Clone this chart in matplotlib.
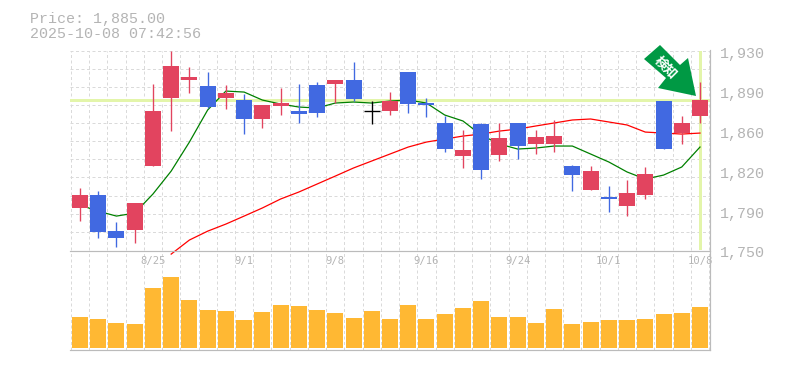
import matplotlib
matplotlib.use("Agg")
import matplotlib.pyplot as plt
from matplotlib.patches import Polygon, Rectangle

plt.rcParams['font.family'] = ['Noto Sans CJK JP', 'DejaVu Sans']

opens  = [1788,1800,1767,1768,1826,1887,1903,1898,1887,1885,1868,1880,1875,1899,1900,1903,1875,1875,1911,1883,1865,1835,1864,1836,1865,1846,1846,1826,1804,1798,1790,1800,1884,1856,1871]
closes = [1800,1766,1761,1792,1875,1916,1906,1879,1892,1868,1881,1883,1873,1874,1903,1886,1875,1884,1882,1881,1841,1840,1822,1851,1844,1852,1853,1818,1821,1796,1801,1819,1841,1865,1885]
highs  = [1806,1803,1775,1792,1900,1930,1915,1911,1899,1891,1881,1896,1900,1902,1903,1920,1884,1893,1911,1887,1871,1858,1865,1865,1865,1858,1867,1827,1826,1808,1813,1825,1884,1871,1902]
lows   = [1776,1761,1753,1756,1826,1857,1892,1878,1877,1855,1860,1872,1865,1870,1883,1884,1864,1872,1874,1870,1838,1824,1814,1830,1832,1837,1838,1803,1804,1784,1781,1796,1841,1846,1865]
ma_short = [1790.6,1785,1780.6,1783.3,1800.5,1821.2,1847.4,1876.3,1893.4,1892.5,1885.3,1881.7,1879,1878.1,1882.6,1883.5,1882.6,1884.4,1885.3,1882.6,1871.8,1866.4,1853.7,1845.6,1841.1,1842,1843.8,1843.8,1836.6,1829.4,1820.4,1814,1817.6,1824.9,1842.9]
ma_long_start = 5
ma_long = [1746.3,1759,1767,1773.4,1780.6,1787.9,1796,1802.3,1809.5,1816.7,1824,1830.3,1836.6,1842.9,1847.4,1850.1,1852.8,1854.6,1857.3,1859.1,1861.9,1864.6,1867.3,1868.2,1865.5,1862.8,1856.4,1855.5,1854.6,1855.5]
volumes = [31,29,25,24,60,71,48,38,37,28,36,43,42,38,35,30,37,29,43,29,34,40,47,31,31,25,39,24,26,28,28,29,34,35,41]
date_labels = {4:'8/25',9:'9/1',14:'9/8',19:'9/16',24:'9/24',29:'10/1',34:'10/8'}
price_ticks = [1930,1894,1858,1822,1786,1750]
price_labels = ['1,930','1,890','1,860','1,820','1,790','1,750']
last_price = 1885
title_lines = ['Price: 1,885.00','2025-10-08 07:42:56']
badge_text = '検知'

W,H = 785,370
RED,BLUE,BLACK = '#E2445F','#4169E1','#000000'
GRID,AXIS,TXT = '#DADADA','#BBBBBB','#B4B4B4'
HL = '#E3F5AA'
MONO = 'Liberation Mono'
px = 72/100

fig = plt.figure(figsize=(W/100,H/100),dpi=100,facecolor='white')
def mkax(top,bot):
    return fig.add_axes([70/W,1-bot/H,640/W,(bot-top)/H])
ax = mkax(50.5,250)
vx = mkax(250,349.5)
xl = (-0.548,34.548)
n = len(opens)
for a in (ax,vx):
    a.set_xlim(*xl)
    a.patch.set_alpha(0)
    for s in a.spines.values(): s.set_visible(False)
    a.tick_params(length=0,labelbottom=False,labelleft=False)
    for k in range(n+1):
        a.axvline(k-0.5,color=GRID,lw=1*px,ls=(0,(3,2.5)),zorder=0)
ax.set_ylim(1750,1930)
vx.set_ylim(-1.5,98)
ax.set_xticks([]); ax.set_yticks([]); vx.set_xticks([]); vx.set_yticks([])

for k in range(12):
    ax.axhline(1750+k*180/11,color=GRID,lw=1*px,ls=(0,(3,2.5)),zorder=0)

ax.axhline(last_price,color=HL,lw=3*px,zorder=1)
ax.axvline(n-1,color=HL,lw=3*px,zorder=1)

bw = 16/18.235
for i,(o,c,h,l) in enumerate(zip(opens,closes,highs,lows)):
    col = BLACK if o==c else (RED if c>o else BLUE)
    ax.plot([i,i],[l,h],color=col,lw=1.35*px,zorder=3,solid_capstyle='butt')
    if o==c:
        ax.plot([i-bw/2,i+bw/2],[o,o],color=col,lw=1.35*px,zorder=3,solid_capstyle='butt')
    else:
        ax.add_patch(Rectangle((i-bw/2,min(o,c)),bw,abs(c-o),facecolor=col,edgecolor='none',zorder=3))

ax.plot(range(n),ma_short,color='#008000',lw=1.25*px,zorder=2,clip_on=False)
ax.plot(range(ma_long_start,n),ma_long,color='#FF0000',lw=1.25*px,zorder=2,clip_on=False)

vx.bar(range(n),volumes,width=bw,color='#FFB833',zorder=3)

T = fig.transFigure
for (x0,y0,x1,y1) in [(70,250.5,710,250.5),(70,349.5,710,349.5),(710,50,710,350)]:
    fig.add_artist(plt.Line2D([x0/W,x1/W],[1-y0/H,1-y1/H],color=AXIS,lw=1.2*px,transform=T,zorder=4))

for t,y in zip(title_lines,(18.5,33.5)):
    fig.text(30/W,1-y/H,t,family=MONO,fontsize=15*px,color=TXT,va='center',ha='left')
for p,lab in zip(price_ticks,price_labels):
    y = ax.transData.transform((0,p))[1]
    fig.text(720/W,(y-3.5)/H,lab,family=MONO,fontsize=15*px,color=TXT,va='center',ha='left')
for i,lab in date_labels.items():
    x = ax.transData.transform((i,0))[0]
    fig.text(x/W,1-261/H,lab,family='DejaVu Sans Mono',fontsize=10.5*px,color=TXT,va='center',ha='center')

pts = [(660,45),(644,59),(666,78),(658,88),(696,96),(688,58),(680,65)]
fig.add_artist(Polygon([(x/W,1-y/H) for x,y in pts],closed=True,transform=T,facecolor='#009944',edgecolor='none',zorder=6))
fig.text(665.5/W,1-67.5/H,badge_text,fontsize=13*px,color='white',weight='bold',rotation=-45,ha='center',va='center',zorder=7)

fig.savefig('out.png',dpi=100,facecolor='white')
